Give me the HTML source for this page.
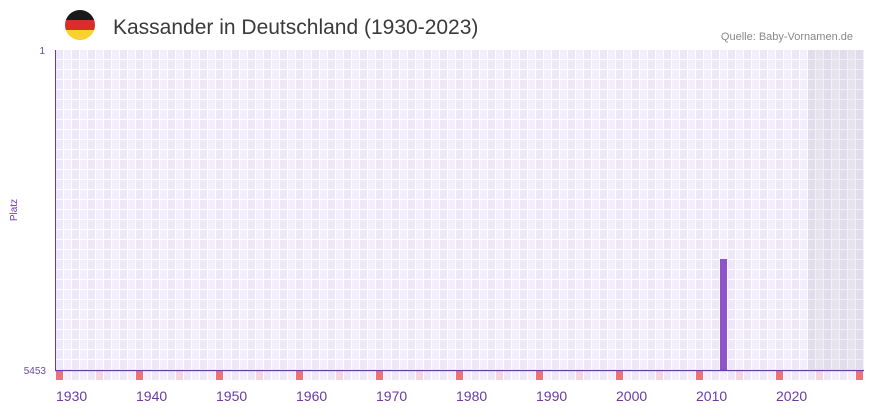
<!DOCTYPE html>
<html><head><meta charset="utf-8"><style>
body{margin:0;background:#fff;width:873px;height:412px;overflow:hidden;font-family:"Liberation Sans",sans-serif}
</style></head><body>
<svg width="873" height="412" xmlns="http://www.w3.org/2000/svg">
<defs>
<pattern id="g" x="56" y="50" width="16" height="10" patternUnits="userSpaceOnUse">
<rect width="16" height="10" fill="#fff"/>
<rect x="0" y="0" width="7" height="9" fill="#ede7f8"/>
<rect x="8" y="0" width="7" height="9" fill="#f3eefb"/>
</pattern>
<pattern id="s" x="56" y="50" width="16" height="10" patternUnits="userSpaceOnUse">
<rect width="16" height="10" fill="#f2f0f4"/>
<rect x="0" y="0" width="7" height="9" fill="#e2dded"/>
<rect x="8" y="0" width="7" height="9" fill="#e7e3ee"/>
</pattern>
<pattern id="b" x="56" y="370" width="16" height="10" patternUnits="userSpaceOnUse">
<rect width="16" height="10" fill="#fff"/>
<rect x="0" y="0" width="7" height="10" fill="#ede7f8"/>
<rect x="8" y="0" width="7" height="10" fill="#f3eefb"/>
</pattern>
<clipPath id="c"><circle cx="80" cy="25" r="15"/></clipPath>
</defs>
<g clip-path="url(#c)">
<rect x="65" y="10" width="30" height="10" fill="#1a1a1a"/>
<rect x="65" y="20" width="30" height="10" fill="#dd2a2a"/>
<rect x="65" y="30" width="30" height="10" fill="#f8d12f"/>
</g>
<text x="113" y="34" font-size="21" fill="#3a3a3a">Kassander in Deutschland (1930-2023)</text>
<text x="853" y="40" font-size="11" fill="#888" text-anchor="end">Quelle: Baby-Vornamen.de</text>
<rect x="56" y="50" width="808" height="320" fill="url(#g)"/>
<rect x="808" y="50" width="56" height="320" fill="url(#s)"/>
<rect x="56" y="370" width="808" height="10" fill="url(#b)"/>
<g fill="#e8747c">
<rect x="56" y="370" width="7" height="10"/><rect x="136" y="370" width="7" height="10"/><rect x="216" y="370" width="7" height="10"/><rect x="296" y="370" width="7" height="10"/><rect x="376" y="370" width="7" height="10"/><rect x="456" y="370" width="7" height="10"/><rect x="536" y="370" width="7" height="10"/><rect x="616" y="370" width="7" height="10"/><rect x="696" y="370" width="7" height="10"/><rect x="776" y="370" width="7" height="10"/><rect x="856" y="370" width="7" height="10"/>
</g>
<g fill="#f4d6e0">
<rect x="96" y="370" width="7" height="10"/><rect x="176" y="370" width="7" height="10"/><rect x="256" y="370" width="7" height="10"/><rect x="336" y="370" width="7" height="10"/><rect x="416" y="370" width="7" height="10"/><rect x="496" y="370" width="7" height="10"/><rect x="576" y="370" width="7" height="10"/><rect x="656" y="370" width="7" height="10"/><rect x="736" y="370" width="7" height="10"/><rect x="816" y="370" width="7" height="10"/>
</g>
<rect x="720" y="259" width="7" height="111" fill="#8e54c8"/>
<line x1="55.5" y1="50" x2="55.5" y2="370" stroke="#6a3aa8" stroke-width="1"/>
<line x1="55" y1="370.5" x2="864" y2="370.5" stroke="#6a3aa8" stroke-width="1.2"/>
<text x="45" y="54" font-size="10" fill="#6a4a9a" text-anchor="end">1</text>
<text x="46" y="374" font-size="10" fill="#6a4a9a" text-anchor="end">5453</text>
<text x="17" y="210" font-size="10" fill="#6a3aa8" text-anchor="middle" transform="rotate(-90 17 210)">Platz</text>
<g font-size="14" fill="#6a3aa8">
<text x="56" y="401">1930</text><text x="136" y="401">1940</text><text x="216" y="401">1950</text><text x="296" y="401">1960</text><text x="376" y="401">1970</text><text x="456" y="401">1980</text><text x="536" y="401">1990</text><text x="616" y="401">2000</text><text x="696" y="401">2010</text><text x="776" y="401">2020</text>
</g>
</svg>
</body></html>
